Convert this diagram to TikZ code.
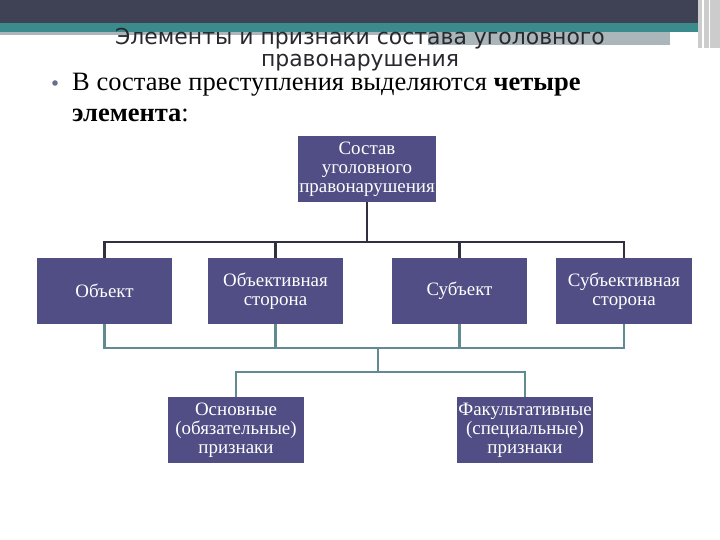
\documentclass[tikz,border=0pt]{standalone}
\usepackage{fontspec}
\setmainfont{Liberation Serif}
\newfontfamily\titlefont{DejaVu Sans}
\definecolor{bandgray}{RGB}{63, 66, 84}
\definecolor{bandteal}{RGB}{59, 138, 140}
\definecolor{barlight}{RGB}{170, 182, 186}
\definecolor{boxviolet}{RGB}{80, 78, 132}
\definecolor{busdark}{RGB}{48, 48, 62}
\definecolor{busteal}{RGB}{98, 138, 146}
\definecolor{titlegray}{RGB}{40, 40, 46}
\usetikzlibrary{positioning, calc}

\begin{document}
\begin{tikzpicture}[
  x=1bp, y=-1bp,
  pbox/.style={fill=boxviolet, text=white, inner sep=1pt, minimum width=136bp, minimum height=66bp,
    align=center, font=\fontsize{19}{19}\selectfont},
  topbus/.style={draw=busdark, line width=2.2bp},
  lowbus/.style={draw=busteal, line width=2.2bp}
]
  \useasboundingbox (0,0) rectangle (720,540);

  % slide header
  \fill[bandgray] (0,0) rectangle (698,23);
  \fill[bandteal] (0,23) rectangle (707,32);
  \fill[barlight] (0,32) rectangle (670,35);
  \fill[barlight] (428,33) rectangle (670,45);
  \fill[black!20] (698,0) rectangle (720,48);
  \draw[white, line width=1.5bp] (703,0) -- (703,48);
  \draw[white, line width=1bp] (709,0) -- (709,48);

  \node[anchor=base, font=\titlefont\fontsize{22}{22}\selectfont, text=titlegray] (title1) at (360,45) {Элементы и признаки состава уголовного};
  \node[anchor=base, font=\titlefont\fontsize{22}{22}\selectfont, text=titlegray] (title2) at (360,67) {правонарушения};

  \fill[busteal!80!violet] (55,83) circle (2.8bp);
  \node[anchor=base west, inner sep=0pt, font=\fontsize{26.6}{31}\selectfont] (lead1) at (72,91) {В составе преступления выделяются \textbf{четыре}};
  \node[anchor=base west, inner sep=0pt, font=\fontsize{26.6}{31}\selectfont] (lead2) at (72,122) {\textbf{элемента}:};

  % tree
  \node[pbox] (root) at (367,169) {Состав\\уголовного\\правонарушения};
  \node[pbox, minimum width=135bp] (obj) at (104.5,291) {Объект};
  \node[pbox, minimum width=135bp] (objside) at (275.5,291) {Объективная\\сторона};
  \node[pbox, minimum width=135bp] (subj) at (459.5,291) {Субъект};
  \node[pbox] (subjside) at (624,291) {Субъективная\\сторона};
  \node[pbox] (basic) at (236,430) {Основные\\(обязательные)\\признаки};
  \node[pbox] (extra) at (525,430) {Факультативные\\(специальные)\\признаки};

  \coordinate (bus1) at (367,242);
  \coordinate (bus2) at (378,348);
  \coordinate (bus3) at (378,372);

  \foreach \n in {obj, objside, subj, subjside}
    \draw[topbus] (root.south) -- (bus1) -| (\n.north);
  \foreach \n in {obj, objside, subj, subjside}
    \draw[lowbus] (\n.south) |- (bus2);
  \draw[lowbus] (bus2) -- (bus3);
  \foreach \n in {basic, extra}
    \draw[lowbus] (bus3) -| (\n.north);
\end{tikzpicture}
\end{document}
